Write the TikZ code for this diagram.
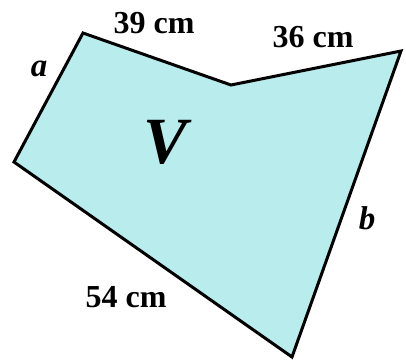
\documentclass[tikz,border=0pt]{standalone}
\usepackage{fontspec}
\setmainfont{Liberation Serif}
\definecolor{fillc}{HTML}{B9EDED}
\begin{document}
\begin{tikzpicture}[x=1pt,y=-1pt,
  lbl/.style={font=\fontsize{32}{32}\selectfont\bfseries, inner sep=0pt, anchor=base},
  var/.style={font=\fontsize{33}{33}\selectfont\bfseries\itshape, inner sep=0pt, anchor=base}]
\useasboundingbox (0,0) rectangle (406,362);
\coordinate (A) at (83,33);
\coordinate (B) at (231,85);
\coordinate (C) at (401,51);
\coordinate (D) at (292,357);
\coordinate (E) at (14,162);
\draw[line width=3pt, fill=fillc, line join=miter] (A) -- (B) -- (C) -- (D) -- (E) -- cycle;
\node[lbl] (l39) at (154,33) {39 cm};
\node[lbl] (l36) at (313,47) {36 cm};
\node[lbl] (l54) at (126,307) {54 cm};
\node[var] (la) at (39,76) {a};
\node[var] (lb) at (367,229) {b};
\node[font=\fontsize{66}{66}\selectfont\bfseries\itshape, inner sep=0pt, anchor=base] (lV) at (166,163) {V};
\end{tikzpicture}
\end{document}
